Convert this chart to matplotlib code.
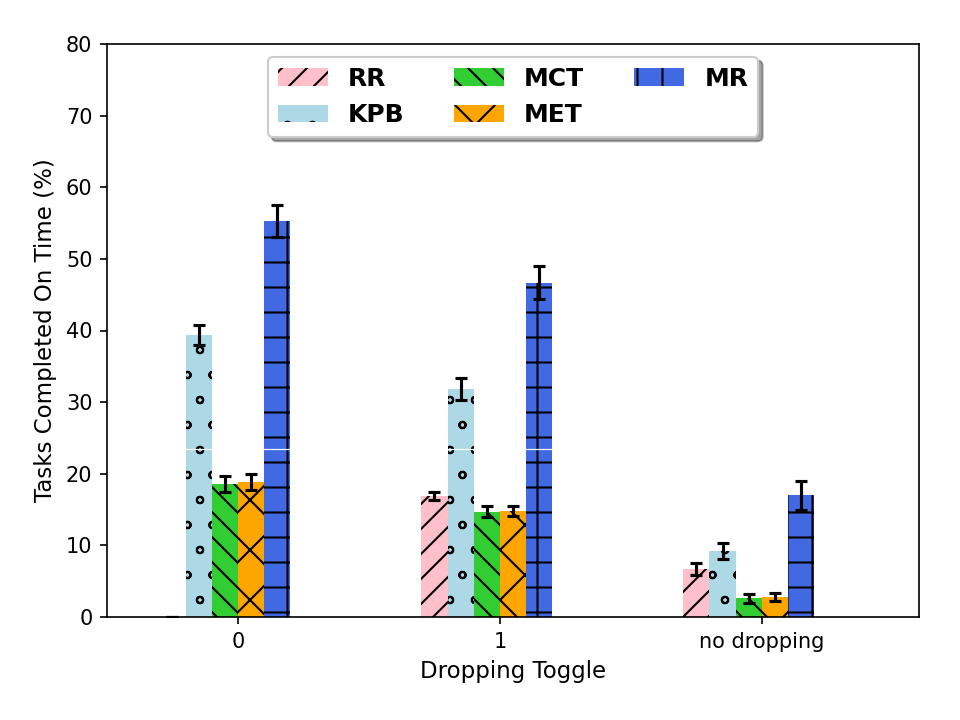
import matplotlib
matplotlib.use("Agg")
import matplotlib.pyplot as plt
import matplotlib.hatch as mhatch
import numpy as np

plt.rcParams['hatch.color'] = 'black'
plt.rcParams['hatch.linewidth'] = 1.0
mhatch.SmallCircles.size = 0.13

categories = ["0", "1", "no dropping"]
series = ["RR", "KPB", "MCT", "MET", "MR"]
colors = ["pink", "lightblue", "limegreen", "orange", "royalblue"]
hatches = ["//", "o", "\\\\", "x", "+"]

rr = [0.0, 16.9, 6.7]
kpb = [39.4, 31.8, 9.2]
mct = [18.6, 14.7, 2.6]
met = [18.8, 14.8, 2.8]
mr = [55.3, 46.7, 17.0]

rr_err = [0.0, 0.55, 0.8]
kpb_err = [1.4, 1.5, 1.1]
mct_err = [1.1, 0.75, 0.6]
met_err = [1.1, 0.75, 0.6]
mr_err = [2.2, 2.3, 2.0]

values = [rr, kpb, mct, met, mr]
errors = [rr_err, kpb_err, mct_err, met_err, mr_err]

fig = plt.figure(figsize=(6.4, 4.8), dpi=150)
ax = fig.add_axes([107/960, 1-617/720, (919-107)/960, (617-44)/720])

ind = np.arange(len(categories))
width = 0.1
for i, (name, vals, errs, c, h) in enumerate(zip(series, values, errors, colors, hatches)):
    ax.bar(ind - 0.25 + i*width, vals, width, yerr=errs, color=c, hatch=h,
           edgecolor='black', linewidth=0, label=name, capsize=3,
           error_kw=dict(elinewidth=1.5, capthick=1.5, ecolor='black'))

ax.axhline(23.45, color='white', lw=0.6, zorder=1.5)

ax.set_xlim(-0.5, 2.6)
ax.set_ylim(0, 80)
ax.set_xticks(ind)
ax.set_xticklabels(categories)
ax.set_xlabel("Dropping Toggle", fontsize=11)
ax.set_ylabel("Tasks Completed On Time (%)", fontsize=11)
ax.legend(loc='upper center', ncol=3, shadow=True, fancybox=True,
          prop={'weight': 'bold', 'size': 12})

fig.savefig("out.png", dpi=150)
